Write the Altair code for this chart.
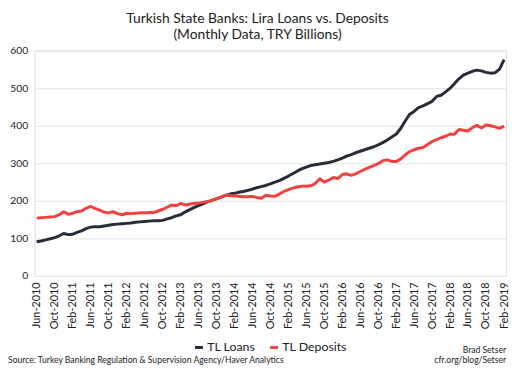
import altair as alt
import pandas as pd

# ---- data (TRY billions, monthly Jun-2010 .. Feb-2019) ----
start_month = "2010-06-01"
end_month = "2019-02-01"

tl_loans = [
    91, 93, 96, 99, 102, 107, 113, 110, 111, 116, 120, 126,
    130, 131, 131, 133, 135, 137, 138, 139, 140, 141, 143, 144,
    145, 146, 147, 147, 148, 152, 155, 160, 163, 170, 176, 182,
    187, 192, 197, 201, 205, 210, 214, 218, 220, 223, 225, 228,
    231, 235, 238, 241, 245, 250, 254, 260, 266, 272, 279, 285,
    290, 294, 296, 298, 300, 302, 305, 309, 314, 319, 323, 328,
    332, 336, 340, 344, 349, 355, 362, 370, 378, 392, 412, 430,
    438, 448, 453, 459, 465, 478, 481, 490, 500, 512, 525, 535,
    540, 545, 548, 546, 542, 540, 541, 551, 576,
]
tl_deposits = [
    154, 155, 156, 157, 158, 163, 171, 164, 167, 171, 173, 180,
    185, 180, 175, 170, 168, 171, 166, 163, 167, 166, 167, 168,
    168, 169, 169, 173, 177, 183, 189, 187, 193, 189, 191, 193,
    194, 196, 198, 201, 206, 210, 215, 214, 213, 212, 211, 211,
    212, 209, 207, 215, 213, 212, 218, 225, 230, 234, 237, 239,
    239, 240, 246, 259, 250, 255, 262, 259, 270, 272, 268, 272,
    278, 284, 289, 294, 299, 307, 309, 305, 305, 311, 322, 331,
    336, 340, 342, 350, 358, 363, 368, 372, 378, 377, 390, 388,
    386, 395, 401, 394, 402, 400, 397, 393, 399,
]
series_names = ["TL Loans", "TL Deposits"]
series_colors = ["#262c38", "#f2413f"]
y_ticks = [0, 100, 200, 300, 400, 500, 600]

title_lines = ["Turkish State Banks: Lira Loans vs. Deposits", "(Monthly Data, TRY Billions)"]
source_note = ["Source: Turkey Banking Regulation & Supervision Agency/Haver Analytics"]
credit_name = ["Brad Setser"]
credit_url = ["cfr.org/blog/Setser"]

FONT = "Lato"
TXT = "#222222"

months = pd.date_range(start_month, end_month, freq="MS")
df = pd.DataFrame({
    "date": list(months) * 2,
    "value": tl_loans + tl_deposits,
    "series": [series_names[0]] * len(months) + [series_names[1]] * len(months),
})

tick_dates = pd.date_range(start_month, end_month, freq="4MS")
x_values = [alt.DateTime(year=int(d.year), month=int(d.month), date=1) for d in tick_dates]

lines = alt.Chart(df).mark_line(strokeWidth=3, strokeJoin="round").encode(
    x=alt.X(
        "date:T",
        scale=alt.Scale(
            domain=[alt.DateTime(year=2010, month=6, date=1), alt.DateTime(year=2019, month=2, date=1)],
            padding=2,
        ),
        axis=alt.Axis(
            values=x_values, format="%b-%Y", labelAngle=270, labelAlign="right",
            labelBaseline="middle", ticks=False, domain=False, grid=False,
            labelPadding=6, labelFontSize=11, labelColor=TXT, labelFont=FONT,
            title=None, labelOverlap=False,
        ),
    ),
    y=alt.Y(
        "value:Q",
        scale=alt.Scale(domain=[0, 600], nice=False),
        axis=alt.Axis(
            values=y_ticks, grid=True, gridColor="#e4e4e4", domain=False, ticks=False,
            labelPadding=7, labelFontSize=10.5, labelColor=TXT, labelFont=FONT, title=None,
        ),
    ),
    color=alt.Color(
        "series:N",
        scale=alt.Scale(domain=series_names, range=series_colors),
        legend=alt.Legend(
            orient="none", legendX=160, legendY=294, direction="horizontal",
            symbolType="stroke", symbolStrokeWidth=3, symbolSize=64,
            labelFontSize=12.5, labelFont=FONT, labelColor=TXT, title=None,
            labelOffset=2, columnPadding=8,
        ),
    ),
)

src = alt.Chart(pd.DataFrame({"t": source_note})).mark_text(
    align="left", baseline="middle", fontSize=8.7, font=FONT, color=TXT
).encode(text="t:N", x=alt.value(-27), y=alt.value(313))

credit1 = alt.Chart(pd.DataFrame({"t": credit_name})).mark_text(
    align="right", baseline="middle", fontSize=8.7, font=FONT, color=TXT
).encode(text="t:N", x=alt.value(477), y=alt.value(303))

credit2 = alt.Chart(pd.DataFrame({"t": credit_url})).mark_text(
    align="right", baseline="middle", fontSize=8.7, font=FONT, color=TXT
).encode(text="t:N", x=alt.value(477), y=alt.value(313))

chart = alt.layer(lines, src, credit1, credit2).properties(
    width=477,
    height=228,
    title=alt.TitleParams(
        text=title_lines, fontSize=14, font=FONT, fontWeight="normal", color=TXT,
        anchor="middle", dx=-13, offset=4, lineHeight=16,
    ),
    autosize=alt.AutoSizeParams(type="none"),
    padding={"left": 27, "top": 41, "right": 6, "bottom": 89},
).configure_view(
    fill="#f4f4f4", stroke=None
).configure(background="white")

chart.save("out.html", embed_options={"renderer": "svg", "actions": False})
